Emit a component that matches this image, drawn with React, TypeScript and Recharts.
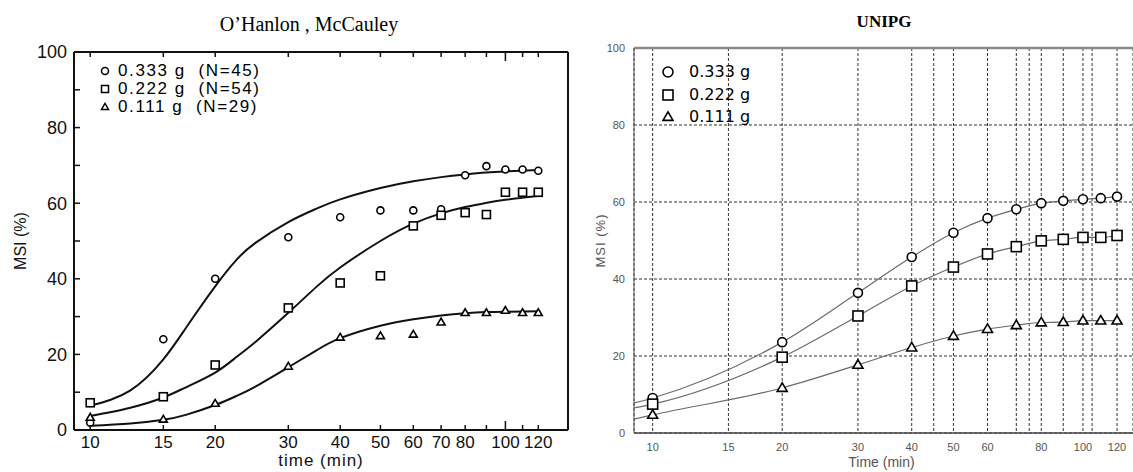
import { ComposedChart, Line, XAxis, YAxis, CartesianGrid, ReferenceLine, Legend } from 'recharts';

// ---- left panel: O'Hanlon, McCauley (measured points) ----
const leftTimes = [10, 15, 20, 30, 40, 50, 60, 70, 80, 90, 100, 110, 120];
const left333 = [1.9, 24.0, 40.0, 51.0, 56.3, 58.1, 58.1, 58.4, 67.4, 69.8, 68.9, 68.9, 68.6];
const left222 = [7.2, 8.8, 17.2, 32.3, 38.9, 40.8, 54.0, 56.8, 57.5, 57.0, 62.9, 62.9, 62.9];
const left111 = [3.3, 2.8, 7.0, 16.8, 24.5, 24.9, 25.3, 28.5, 31.0, 31.0, 31.6, 31.0, 31.0];

// ---- left panel: fitted curves ----
const fitTimes = [10, 12.5, 15, 17, 20, 22.5, 25, 30, 35, 40, 50, 60, 70, 80, 90, 100, 120];
const fit333 = [6.4, 10.5, 18.7, 27.0, 38.0, 45.0, 49.5, 55.0, 58.5, 61.0, 64.0, 65.8, 66.9, 67.6, 68.1, 68.4, 68.8];
const fit222 = [3.7, 5.9, 8.6, 11.3, 15.2, 19.3, 23.3, 31.0, 37.8, 43.0, 50.0, 54.6, 57.3, 59.0, 60.1, 60.9, 61.9];
const fit111 = [1.1, 1.7, 2.7, 4.0, 6.6, 9.0, 11.5, 16.6, 21.0, 24.3, 27.6, 29.3, 30.3, 30.9, 31.2, 31.3, 31.4];

const leftTicks = [10, 15, 20, 30, 40, 50, 60, 70, 80, 90, 100, 110, 120];
const leftTickLabels = [10, 15, 20, 30, 40, 50, 60, 70, 80, 100, 120];
const leftYTicks = [0, 10, 20, 30, 40, 50, 60, 70, 80, 90, 100];
const leftLegendLabels = ['0.333 g  (N=45)', '0.222 g  (N=54)', '0.111 g  (N=29)'];

// ---- right panel: UNIPG ----
const rightTimes = [10, 20, 30, 40, 50, 60, 70, 80, 90, 100, 110, 120];
const right333 = [9.1, 23.6, 36.4, 45.7, 52.0, 55.8, 58.1, 59.7, 60.3, 60.7, 61.0, 61.4];
const right222 = [7.5, 19.7, 30.4, 38.2, 43.1, 46.5, 48.4, 49.9, 50.3, 50.8, 50.8, 51.3];
const right111 = [4.7, 11.7, 17.7, 22.2, 25.2, 27.0, 28.0, 28.7, 28.8, 29.2, 29.2, 29.2];
// where the fitted lines enter at the left edge of the plot
const rightEdgeTime = 9.05;
const rightEdge = [7.8, 6.5, 3.6];

const rightGridTicks = [10, 15, 20, 30, 40, 45, 50, 60, 70, 75, 80, 90, 100, 105, 120];
const rightTickLabels = [10, 15, 20, 30, 40, 50, 60, 80, 100, 120];
const rightYTicks = [0, 20, 40, 60, 80, 100];
const rightLegendLabels = ['0.333 g', '0.222 g', '0.111 g'];

type Shape = 'circle' | 'square' | 'triangle';
const shapes: Shape[] = ['circle', 'square', 'triangle'];

const LEFT_DOMAIN: [number, number] = [9.14, 141.5];
const RIGHT_DOMAIN: [number, number] = [9.05, 130.7];

const SANS = '"Liberation Sans", Arial, Helvetica, sans-serif';

const rows = (xs: number[], ys: number[]) => xs.map((x, i) => ({ x, y: ys[i] }));

const drawMarker = (shape: Shape, cx: number, cy: number, s: number, sw: number, key?: any) => {
    if (shape === 'circle') {
        return <circle key={key} cx={cx} cy={cy} r={s / 2} fill="#fff" stroke="#000" strokeWidth={sw} />;
    }
    if (shape === 'square') {
        return <rect key={key} x={cx - s / 2} y={cy - s / 2} width={s} height={s} fill="#fff" stroke="#000" strokeWidth={sw} />;
    }
    const h = s * 0.85;
    return (
        <polygon
            key={key}
            points={`${cx},${cy - h * 0.6} ${cx - s / 2},${cy + h * 0.4} ${cx + s / 2},${cy + h * 0.4}`}
            fill="#fff"
            stroke="#000"
            strokeWidth={sw}
        />
    );
};

const markerDot = (shape: Shape, s: number, sw: number) => (p: any) => {
    if (p.cx == null || p.cy == null) return <g key={p.index} />;
    return drawMarker(shape, p.cx, p.cy, s, sw, p.index);
};

// bottom ticks of the scanned plot point inwards, the one at 100 is longer
const LeftBottomTick = (props: any) => {
    const { x, y, payload } = props;
    const axisY = y - 6;
    const len = payload.value === 100 ? 9 : 5;
    const show = leftTickLabels.includes(payload.value);
    return (
        <g>
            <line x1={x} x2={x} y1={axisY} y2={axisY - len} stroke="#111" strokeWidth={1.5} />
            {show && (
                <text x={x} y={y} dy="0.71em" textAnchor="middle" fill="#111" fontSize={17} fontFamily={SANS}>
                    {payload.value}
                </text>
            )}
        </g>
    );
};

const LeftTopTick = (props: any) => {
    const { x, y, payload } = props;
    const len = payload.value === 100 ? 9 : 5;
    return <line x1={x} x2={x} y1={y} y2={y + len} stroke="#111" strokeWidth={1.5} />;
};

const LeftLegend = () => (
    <div style={{ fontFamily: SANS, fontSize: 17, letterSpacing: 1.6, color: '#000', lineHeight: '18px' }}>
        {leftLegendLabels.map((label, i) => (
            <div key={i} style={{ display: 'flex', alignItems: 'center', height: 18 }}>
                <svg width={12} height={12} style={{ display: 'block' }}>{drawMarker(shapes[i], 6, 6, 7, 1.5)}</svg>
                <span style={{ marginLeft: 7, whiteSpace: 'pre' }}>{label}</span>
            </div>
        ))}
    </div>
);

const RightLegend = () => (
    <div style={{ fontFamily: '"DejaVu Sans", Verdana, sans-serif', fontSize: 16, color: '#000', lineHeight: '22.5px' }}>
        {rightLegendLabels.map((label, i) => (
            <div key={i} style={{ display: 'flex', alignItems: 'center', height: 22.5 }}>
                <svg width={14} height={14} style={{ display: 'block' }}>{drawMarker(shapes[i], 7, 7, 10, 1.6)}</svg>
                <span style={{ marginLeft: 14, whiteSpace: 'pre' }}>{label}</span>
            </div>
        ))}
    </div>
);

export default function App() {
    const leftPoints = [left333, left222, left111].map(ys => rows(leftTimes, ys));
    const leftFits = [fit333, fit222, fit111].map(ys => rows(fitTimes, ys));
    const rightPoints = [right333, right222, right111].map(ys => rows(rightTimes, ys));
    const rightCurves = [right333, right222, right111].map((ys, i) =>
        [{ x: rightEdgeTime, y: rightEdge[i] }, ...rows(rightTimes, ys)]
    );

    return (
        <div style={{ position: 'absolute', left: 0, top: 0, width: 1133, height: 472, background: '#fff', overflow: 'hidden' }}>

            {/* O'Hanlon, McCauley */}
            <div style={{ position: 'absolute', left: 0, top: 0 }}>
                <ComposedChart width={570} height={472} margin={{ top: 22, right: 0, bottom: 0, left: 0 }}>
                    <XAxis
                        dataKey="x" type="number" scale="log" domain={LEFT_DOMAIN} allowDataOverflow
                        ticks={leftTicks} interval={0} height={42} tickSize={0} tickMargin={6} tickLine={false}
                        axisLine={{ stroke: '#111', strokeWidth: 2 }}
                        tick={<LeftBottomTick />}
                        label={{
                            content: (p: any) => (
                                <text x={p.viewBox.x + p.viewBox.width / 2} y={466} textAnchor="middle" fill="#111" fontSize={17} letterSpacing={1} fontFamily={SANS}>
                                    time (min)
                                </text>
                            )
                        }}
                    />
                    <XAxis
                        xAxisId="top" orientation="top" dataKey="x" type="number" scale="log" domain={LEFT_DOMAIN} allowDataOverflow
                        ticks={leftTicks} interval={0} height={30} tickSize={0} tickMargin={0} tickLine={false}
                        axisLine={{ stroke: '#111', strokeWidth: 2 }}
                        tick={<LeftTopTick />}
                    />
                    <YAxis
                        type="number" domain={[0, 100]} ticks={leftYTicks} interval={0} width={74}
                        tickSize={-6} tickMargin={13}
                        tickFormatter={(v: number) => (v % 20 === 0 ? String(v) : '')}
                        axisLine={{ stroke: '#111', strokeWidth: 2 }}
                        tickLine={{ stroke: '#111', strokeWidth: 1.5 }}
                        tick={{ fill: '#111', fontSize: 18, fontFamily: SANS }}
                        label={{
                            content: (p: any) => {
                                const cy = p.viewBox.y + p.viewBox.height / 2;
                                return (
                                    <text x={20} y={cy} transform={`rotate(-90 20 ${cy})`} textAnchor="middle" dominantBaseline="central" fill="#111" fontSize={16} fontFamily={SANS}>
                                        MSI (%)
                                    </text>
                                );
                            }
                        }}
                    />
                    <YAxis
                        yAxisId="right" orientation="right" type="number" domain={[0, 100]} ticks={leftYTicks} interval={0}
                        width={2} tickSize={-6} tick={false}
                        axisLine={{ stroke: '#111', strokeWidth: 2 }}
                        tickLine={{ stroke: '#111', strokeWidth: 1.5 }}
                    />
                    <Legend
                        layout="vertical" align="center" verticalAlign="middle"
                        wrapperStyle={{ left: 99, top: 62, width: 'auto' }}
                        content={<LeftLegend />}
                    />
                    {leftFits.map((d, i) => (
                        <Line key={`fit-${i}`} data={d} dataKey="y" type="natural" stroke="#111" strokeWidth={2}
                            dot={false} activeDot={false} isAnimationActive={false} />
                    ))}
                    {leftPoints.map((d, i) => (
                        <Line key={`pts-${i}`} data={d} dataKey="y" stroke="none"
                            dot={markerDot(shapes[i], shapes[i] === 'circle' ? 7 : 8, 1.6)}
                            activeDot={false} isAnimationActive={false} />
                    ))}
                </ComposedChart>
            </div>

            {/* UNIPG */}
            <div style={{ position: 'absolute', left: 570, top: 0 }}>
                <ComposedChart width={563} height={472} margin={{ top: 48, right: 0, bottom: 0, left: 0 }}>
                    <CartesianGrid stroke="#333" strokeDasharray="3 2" strokeWidth={1} />
                    <XAxis
                        dataKey="x" type="number" scale="log" domain={RIGHT_DOMAIN} allowDataOverflow
                        ticks={rightGridTicks} interval={0} height={39} tickSize={0} tickMargin={10} tickLine={false}
                        tickFormatter={(v: number) => (rightTickLabels.includes(v) ? String(v) : '')}
                        axisLine={{ stroke: '#444', strokeWidth: 1.5 }}
                        tick={{ fill: '#555', fontSize: 11, fontFamily: SANS }}
                        label={{
                            content: (p: any) => (
                                <text x={p.viewBox.x + p.viewBox.width / 2 - 2} y={467} textAnchor="middle" fill="#555" fontSize={14} fontFamily={SANS}>
                                    Time (min)
                                </text>
                            )
                        }}
                    />
                    <YAxis
                        type="number" domain={[0, 100]} ticks={rightYTicks} interval={0} width={64}
                        tickSize={0} tickMargin={9} tickLine={false}
                        axisLine={{ stroke: '#555', strokeWidth: 1 }}
                        tick={{ fill: '#555', fontSize: 11, fontFamily: SANS }}
                        label={{
                            content: (p: any) => {
                                const cy = p.viewBox.y + p.viewBox.height / 2;
                                return (
                                    <text x={30} y={cy} transform={`rotate(-90 30 ${cy})`} textAnchor="middle" dominantBaseline="central" fill="#555" fontSize={13} letterSpacing={1} fontFamily={SANS}>
                                        MSI (%)
                                    </text>
                                );
                            }
                        }}
                    />
                    <ReferenceLine y={100} stroke="#888" strokeWidth={2.5} />
                    <Legend
                        layout="vertical" align="center" verticalAlign="middle"
                        wrapperStyle={{ left: 91, top: 61, width: 'auto' }}
                        content={<RightLegend />}
                    />
                    {rightCurves.map((d, i) => (
                        <Line key={`curve-${i}`} data={d} dataKey="y" type="monotone" stroke="#6a6a6a" strokeWidth={1.2}
                            dot={false} activeDot={false} isAnimationActive={false} />
                    ))}
                    {rightPoints.map((d, i) => (
                        <Line key={`mk-${i}`} data={d} dataKey="y" stroke="none"
                            dot={markerDot(shapes[i], shapes[i] === 'circle' ? 9 : 10, 1.6)}
                            activeDot={false} isAnimationActive={false} />
                    ))}
                </ComposedChart>
            </div>

            <div style={{ position: 'absolute', left: 109, width: 400, top: 14, textAlign: 'center', fontFamily: '"Liberation Serif", "Times New Roman", serif', fontSize: 20, lineHeight: '20px', color: '#000' }}>
                O’Hanlon , McCauley
            </div>
            <div style={{ position: 'absolute', left: 784, width: 200, top: 13, textAlign: 'center', fontFamily: '"Liberation Serif", "Times New Roman", serif', fontSize: 17, fontWeight: 700, lineHeight: '17px', color: '#000' }}>
                UNIPG
            </div>
        </div>
    );
}
